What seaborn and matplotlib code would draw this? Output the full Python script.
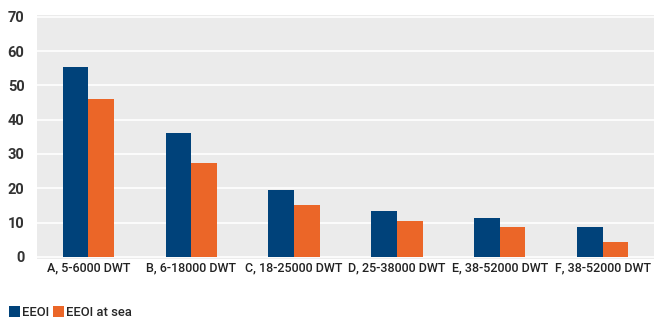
import matplotlib
matplotlib.use("Agg")
import matplotlib.pyplot as plt
import seaborn as sns
import pandas as pd
from matplotlib.patches import Patch

categories = ["A, 5-6000 DWT", "B, 6-18000 DWT", "C, 18-25000 DWT",
              "D, 25-38000 DWT", "E, 38-52000 DWT", "F, 38-52000 DWT"]
eeoi = [55.4, 36.1, 19.4, 13.5, 11.4, 8.8]
eeoi_at_sea = [46.0, 27.3, 15.2, 10.6, 8.8, 4.4]
series_names = ["EEOI", "EEOI at sea"]
y_ticks = [0, 10, 20, 30, 40, 50, 60, 70]

colors = ["#00427a", "#eb6628"]

df = pd.DataFrame({
    "category": categories * 2,
    "value": eeoi + eeoi_at_sea,
    "series": [series_names[0]] * len(categories) + [series_names[1]] * len(categories),
})

sns.set_theme(style="darkgrid")
plt.rcParams["font.family"] = ["Roboto", "DejaVu Sans"]

fig = plt.figure(figsize=(6.59, 3.22), dpi=100)
ax = fig.add_axes([37 / 659, 1 - 259 / 322, (654 - 37) / 659, (259 - 15) / 322])
ax.set_facecolor("#ebebeb")

sns.barplot(data=df, x="category", y="value", hue="series", palette=colors,
            width=0.5, gap=0, saturation=1, linewidth=0, edgecolor="none",
            ax=ax, legend=False)

ax.set_ylim(-0.6, 70.5)
ax.set_yticks(y_ticks)
ax.set_xlim(-0.5, len(categories) - 0.5)
ax.grid(axis="y", color="white", linewidth=1.2)
ax.grid(axis="x", visible=False)
for s in ax.spines.values():
    s.set_visible(False)
ax.set_xlabel("")
ax.set_ylabel("")
ax.tick_params(axis="x", labelsize=9.0, colors="#222222", pad=2, length=0)
ax.tick_params(axis="y", labelsize=10.5, colors="#333333", pad=9, length=0)
for lbl in ax.get_xticklabels():
    lbl.set_fontweight("medium")
for lbl in ax.get_yticklabels():
    lbl.set_fontweight("bold")

handles = [Patch(facecolor=c, edgecolor="none") for c in colors]
fig.legend(handles, series_names, loc="lower left", bbox_to_anchor=(0.0, -0.02),
           ncol=2, frameon=False, handlelength=0.8, handleheight=0.9,
           handletextpad=0.2, columnspacing=0.3, borderaxespad=0.3,
           prop={"weight": "medium", "size": 9.4})

fig.savefig("out.png", dpi=100, facecolor="white")
